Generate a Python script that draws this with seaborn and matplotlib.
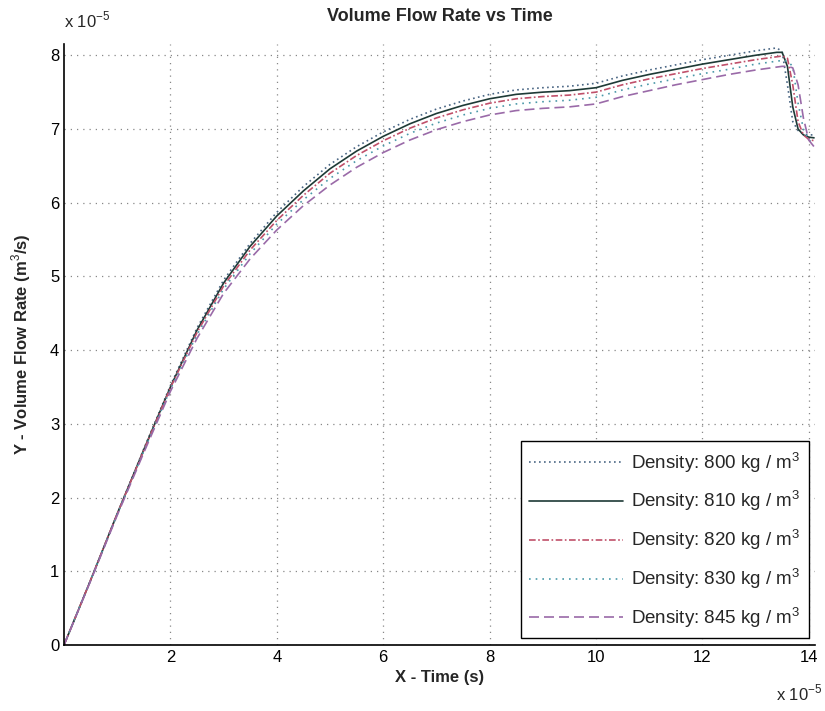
import matplotlib
matplotlib.use("Agg")
import matplotlib.pyplot as plt
import seaborn as sns
import pandas as pd

# ---- data (x in units of 1e-5 s, y in units of 1e-5 m^3/s) ----
time_x = [0, 0.5, 1, 1.5, 2, 2.5, 3, 3.5, 4, 4.5, 5, 5.5, 6, 6.5, 7, 7.5, 8,
          8.5, 9, 9.5, 10, 10.5, 11, 11.5, 12, 12.5, 13, 13.4, 13.5, 13.6,
          13.7, 13.8, 13.9, 14.0, 14.1]

flow_800 = [0, 0.88, 1.78, 2.66, 3.52, 4.3, 4.95, 5.45, 5.87, 6.22, 6.52, 6.76,
            6.96, 7.13, 7.27, 7.38, 7.47, 7.53, 7.56, 7.58, 7.62, 7.72, 7.8,
            7.87, 7.94, 8.0, 8.06, 8.1, 8.05, 7.6, 7.1, 6.98, 6.93, 6.92, 6.92]
flow_810 = [0, 0.88, 1.78, 2.65, 3.5, 4.27, 4.91, 5.41, 5.82, 6.16, 6.46, 6.7,
            6.9, 7.07, 7.21, 7.32, 7.41, 7.47, 7.5, 7.52, 7.56, 7.66, 7.74,
            7.81, 7.88, 7.94, 8.0, 8.04, 8.04, 7.85, 7.3, 7.0, 6.92, 6.89, 6.88]
flow_820 = [0, 0.88, 1.78, 2.64, 3.49, 4.24, 4.87, 5.36, 5.76, 6.1, 6.4, 6.64,
            6.84, 7.01, 7.15, 7.26, 7.35, 7.41, 7.44, 7.46, 7.5, 7.6, 7.68,
            7.75, 7.82, 7.88, 7.94, 7.98, 7.99, 7.96, 7.6, 7.1, 6.92, 6.86, 6.84]
flow_830 = [0, 0.88, 1.77, 2.63, 3.47, 4.21, 4.83, 5.31, 5.71, 6.04, 6.33, 6.57,
            6.77, 6.94, 7.08, 7.19, 7.28, 7.34, 7.37, 7.39, 7.43, 7.53, 7.61,
            7.68, 7.75, 7.81, 7.88, 7.92, 7.93, 7.92, 7.85, 7.35, 7.0, 6.85, 6.8]
flow_845 = [0, 0.87, 1.76, 2.61, 3.44, 4.16, 4.77, 5.24, 5.63, 5.96, 6.24, 6.48,
            6.68, 6.85, 6.99, 7.1, 7.19, 7.25, 7.28, 7.3, 7.34, 7.44, 7.52,
            7.6, 7.67, 7.74, 7.8, 7.84, 7.85, 7.85, 7.83, 7.6, 7.15, 6.85, 6.76]

series_labels = ["Density: 800 kg / m$^3$", "Density: 810 kg / m$^3$",
                 "Density: 820 kg / m$^3$", "Density: 830 kg / m$^3$",
                 "Density: 845 kg / m$^3$"]
x_ticks = [2, 4, 6, 8, 10, 12, 14]
y_ticks = [0, 1, 2, 3, 4, 5, 6, 7, 8]

# ---- styling ----
sns.set_style("white")
plt.rcParams['font.family'] = ['Liberation Sans', 'DejaVu Sans']
plt.rcParams['mathtext.fontset'] = 'custom'
plt.rcParams['mathtext.rm'] = 'Liberation Sans'

fig = plt.figure(figsize=(8.25, 7.11), dpi=100)
ax = fig.add_axes([0.0776, 0.0928, 0.9104, 0.845])

colors = ["#4a6684", "#1e3a36", "#c0506a", "#4a98a8", "#9a6aa8"]
styles = [(0, (1, 2)), "-", (0, (4, 1.5, 1, 1.5)), (0, (1, 3)), (0, (6, 3))]

all_series = [flow_800, flow_810, flow_820, flow_830, flow_845]
for vals, lab, col, ls in zip(all_series, series_labels, colors, styles):
    df = pd.DataFrame({"t": time_x, "q": vals})
    sns.lineplot(data=df, x="t", y="q", ax=ax, color=col, linestyle=ls,
                 linewidth=1.2, label=lab, sort=False)

ax.set_xlim(0, 14.12)
ax.set_ylim(0, 8.15)
ax.set_xticks(x_ticks)
ax.set_yticks(y_ticks)
ax.tick_params(direction="in", length=6, labelsize=12, width=1, colors="black")
ax.grid(True, linestyle=(0, (1, 4)), color="#888888", linewidth=0.9)

for s in ["top", "right"]:
    ax.spines[s].set_visible(False)
for s in ["left", "bottom"]:
    ax.spines[s].set_color("black")
    ax.spines[s].set_linewidth(1.2)

ax.set_title("Volume Flow Rate vs Time", fontsize=13, fontweight="bold", pad=17)
ax.set_xlabel("X - Time (s)", fontsize=12, fontweight="bold", labelpad=4)
ax.set_ylabel("Y - Volume Flow Rate (m$^3$/s)", fontsize=12, fontweight="bold",
              labelpad=12)

fig.text(0.078, 0.972, r"x 10$^{-5}$", fontsize=12, ha="left", va="center")
fig.text(0.94, 0.025, r"x 10$^{-5}$", fontsize=12, ha="left", va="center")

leg = ax.legend(loc="lower right", fontsize=13.5, frameon=True, fancybox=False,
                edgecolor="black", framealpha=1, borderpad=0.45,
                handlelength=5.0, handletextpad=0.4, labelspacing=0.75,
                borderaxespad=0.35)
leg.get_frame().set_linewidth(1.0)

fig.savefig("out.png", dpi=100)
